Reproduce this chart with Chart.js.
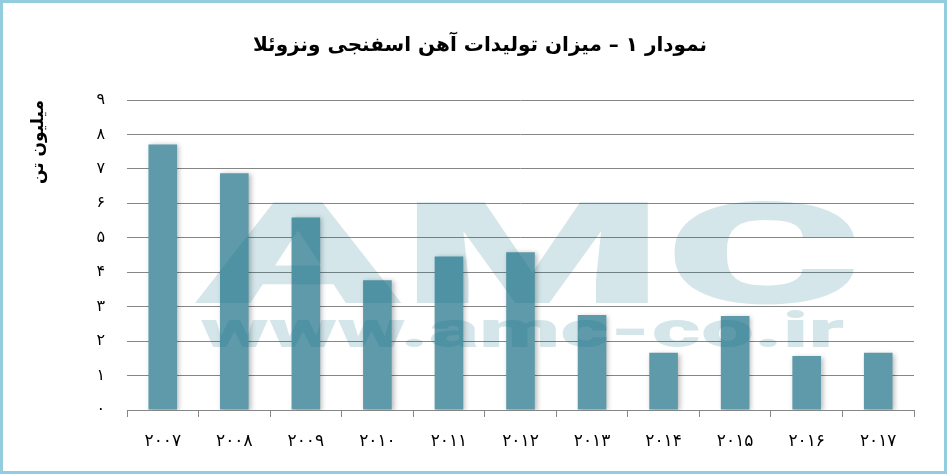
<!DOCTYPE html>
<html>
<head>
<meta charset="utf-8">
<script src="https://cdn.jsdelivr.net/npm/chart.js@4/dist/chart.umd.min.js"></script>
<style>
    body { margin: 0; background: #fff; }
    #wrap { width: 947px; height: 474px; }
</style>
</head>
<body>
<div id="wrap"><canvas id="chart"></canvas></div>
<script>
const years = ['۲۰۰۷', '۲۰۰۸', '۲۰۰۹', '۲۰۱۰', '۲۰۱۱', '۲۰۱۲', '۲۰۱۳', '۲۰۱۴', '۲۰۱۵', '۲۰۱۶', '۲۰۱۷'];
const production = [7.71, 6.87, 5.59, 3.77, 4.46, 4.58, 2.76, 1.66, 2.73, 1.57, 1.66];
const yTickLabels = ['۰', '۱', '۲', '۳', '۴', '۵', '۶', '۷', '۸', '۹'];
const chartTitle = 'نمودار ۱ – میزان تولیدات آهن اسفنجی ونزوئلا';
const yAxisTitle = 'میلیون تن';

const fontFamily = "'DejaVu Sans', sans-serif";
const gridColor = '#868686';

// white background + light blue frame
const framePlugin = {
    id: 'frame',
    beforeDraw(chart) {
        const ctx = chart.ctx;
        ctx.save();
        ctx.fillStyle = '#ffffff';
        ctx.fillRect(0, 0, chart.width, chart.height);
        ctx.strokeStyle = '#93cddd';
        ctx.lineWidth = 3;
        ctx.strokeRect(1.5, 1.5, chart.width - 3, chart.height - 3);
        ctx.restore();
    }
};

// soft shadow under the bars
const shadowPlugin = {
    id: 'barShadow',
    beforeDatasetsDraw(chart) {
        const ctx = chart.ctx;
        ctx.save();
        ctx.shadowColor = 'rgba(0,0,0,0.28)';
        ctx.shadowBlur = 5;
        ctx.shadowOffsetX = 2;
        ctx.shadowOffsetY = 1;
    },
    afterDatasetsDraw(chart) {
        chart.ctx.restore();
    }
};

// AMC watermark, stretched to fit a box given as fractions of the chart area
function drawStretched(ctx, text, font, area, box) {
    ctx.font = font;
    const m = ctx.measureText(text);
    const w = m.actualBoundingBoxLeft + m.actualBoundingBoxRight;
    const h = m.actualBoundingBoxAscent;
    const x0 = area.left + box[0] * area.width;
    const x1 = area.left + box[1] * area.width;
    const y0 = area.top + box[2] * area.height;
    const y1 = area.top + box[3] * area.height;
    ctx.save();
    ctx.translate(x0, y1);
    ctx.scale((x1 - x0) / w, (y1 - y0) / h);
    ctx.textBaseline = 'alphabetic';
    ctx.textAlign = 'left';
    ctx.fillText(text, m.actualBoundingBoxLeft, 0);
    ctx.restore();
}

const watermarkPlugin = {
    id: 'watermark',
    afterDatasetsDraw(chart) {
        const ctx = chart.ctx;
        const area = chart.chartArea;
        ctx.save();
        ctx.globalAlpha = 0.17;
        ctx.fillStyle = 'rgb(8,108,137)';
        drawStretched(ctx, 'AMC', "900 120px Roboto, 'DejaVu Sans', sans-serif", area, [0.084, 0.925, 0.32, 0.655]);
        drawStretched(ctx, 'www.amc-co.ir', "900 60px Roboto, 'DejaVu Sans', sans-serif", area, [0.093, 0.912, 0.68, 0.797]);
        ctx.restore();
    }
};

new Chart(document.getElementById('chart'), {
    type: 'bar',
    data: {
        labels: years,
        datasets: [{
            data: production,
            backgroundColor: '#5e9aa9',
            borderWidth: 0,
            categoryPercentage: 1,
            barPercentage: 0.4
        }]
    },
    options: {
        responsive: true,
        maintainAspectRatio: false,
        animation: false,
        layout: {
            padding: { left: 6, right: 33, top: 0, bottom: 0 }
        },
        plugins: {
            legend: { display: false },
            tooltip: { enabled: false },
            title: {
                display: true,
                // leading em spaces nudge the centred title to the right, as in the original
                text: '\u2003\u2003' + chartTitle,
                color: '#000',
                font: { family: fontFamily, size: 20, weight: 'bold' },
                padding: { top: 34, bottom: 42 }
            }
        },
        scales: {
            x: {
                z: 1,
                grid: {
                    display: true,
                    drawOnChartArea: false,
                    drawTicks: true,
                    tickLength: 7,
                    color: gridColor,
                    offset: true
                },
                border: { display: true, color: gridColor, width: 1 },
                ticks: {
                    color: '#000',
                    padding: 14,
                    font: { family: fontFamily, size: 17 }
                },
                afterFit(scale) { scale.height = 64; }
            },
            y: {
                z: 1,
                min: 0,
                max: 9,
                grid: {
                    color: gridColor,
                    lineWidth: 1,
                    drawTicks: false
                },
                border: { display: false },
                ticks: {
                    stepSize: 1,
                    color: '#000',
                    padding: 22,
                    font: { family: fontFamily, size: 16 },
                    callback: value => yTickLabels[value]
                },
                title: {
                    display: true,
                    text: yAxisTitle,
                    align: 'end',
                    color: '#000',
                    font: { family: fontFamily, size: 17, weight: 'bold' },
                    padding: { top: 22, bottom: 0 }
                },
                afterFit(scale) { scale.width = 121; }
            }
        }
    },
    plugins: [framePlugin, shadowPlugin, watermarkPlugin]
});
</script>
</body>
</html>
